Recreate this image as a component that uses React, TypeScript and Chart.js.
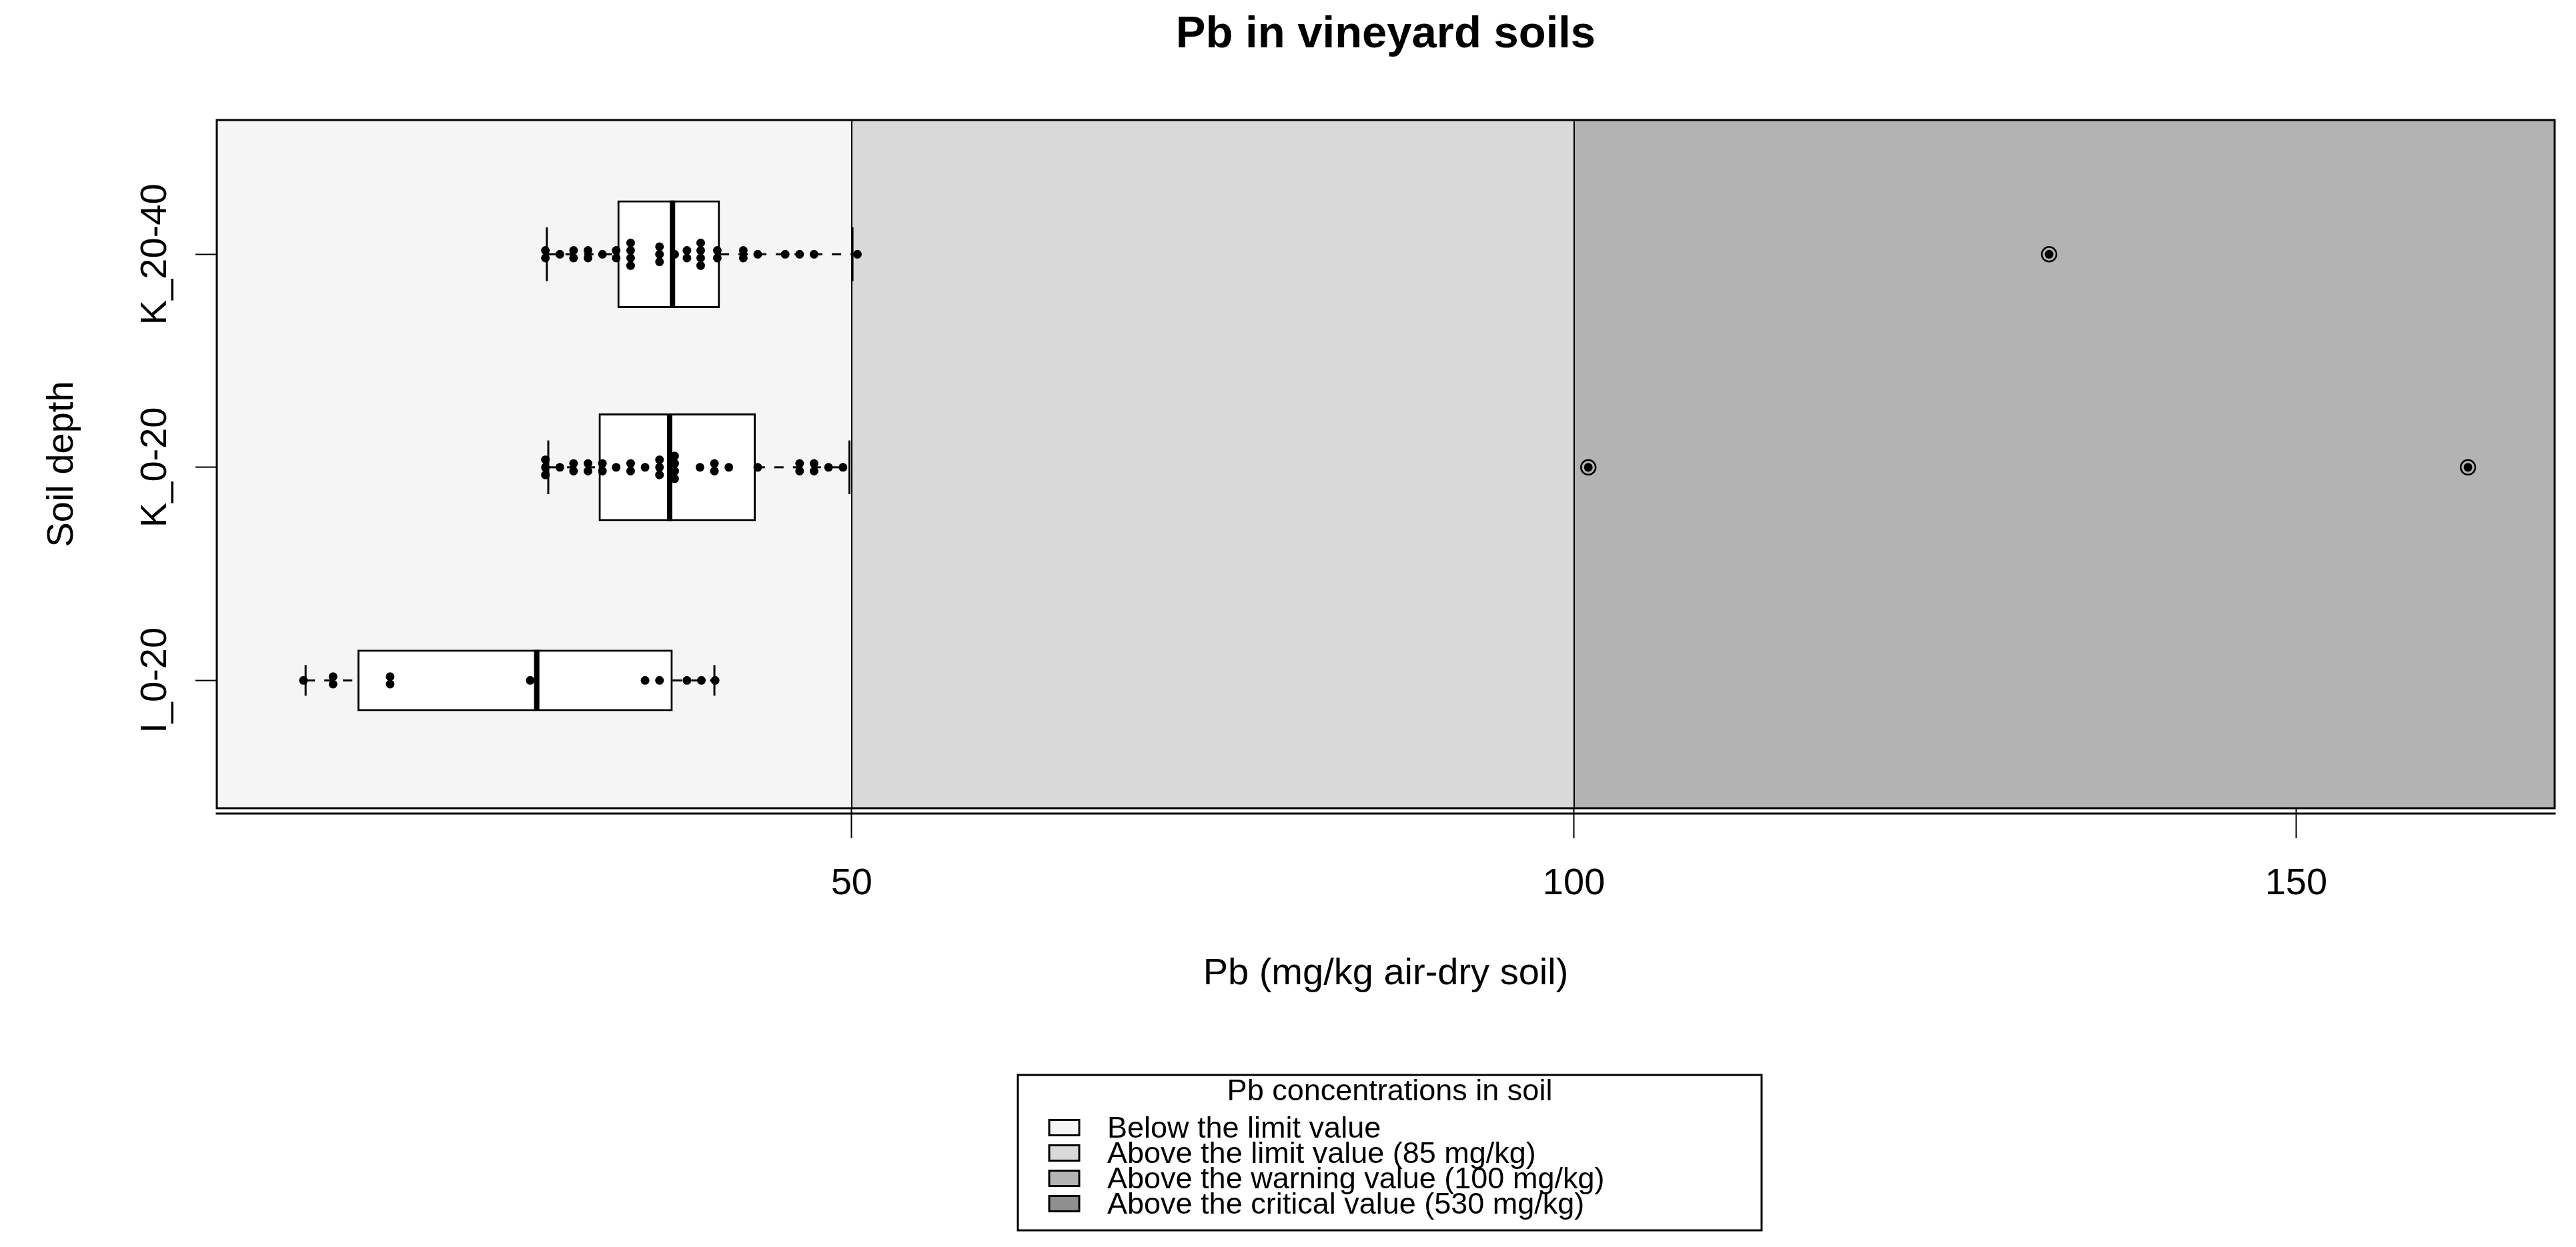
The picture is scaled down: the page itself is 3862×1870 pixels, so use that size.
import React, { useEffect, useRef } from 'react';
import { Chart, registerables } from 'chart.js';

Chart.register(...registerables);

const FONT = '"Liberation Sans", Arial, Helvetica, sans-serif';

// ---------- data ----------
// categories from bottom to top
const categories = ['I_0-20', 'K_0-20', 'K_20-40'];
const categoryPositions = [1, 2, 3];

// box-plot statistics (mg/kg)
const whiskerLow = [12.2, 29.0, 28.9];
const lowerHinge = [15.8, 32.5, 33.8];
const medians = [28.2, 37.4, 37.6];
const upperHinge = [37.6, 43.35, 40.87];
const whiskerHigh = [40.5, 49.85, 50.06];
const outliersI020: number[] = [];
const outliersK020 = [101.0, 161.9];
const outliersK2040 = [132.9];

// individual samples (binned positions as drawn)
const pointsI020 = [12.05, 14.1, 14.1, 18.05, 18.05, 27.75, 35.7, 36.7, 38.6, 39.6, 40.55];
const pointsK020 = [
  28.8, 28.8, 28.8, 29.8, 30.75, 30.75, 31.75, 31.75, 32.75, 32.75, 33.7, 34.7, 34.7,
  35.7, 36.7, 36.7, 36.7, 37.75, 37.75, 37.75, 37.75, 39.5, 40.5, 40.5, 41.5, 43.5,
  46.4, 46.4, 47.4, 47.4, 48.4, 49.4, 101.0, 161.9,
];
const pointsK2040 = [
  28.8, 28.8, 29.8, 30.75, 30.75, 31.75, 31.75, 32.75, 33.7, 33.7, 34.7, 34.7, 34.7, 34.7,
  36.7, 36.7, 36.7, 37.75, 38.6, 38.6, 39.55, 39.55, 39.55, 39.55, 40.7, 40.7, 42.5, 42.5,
  43.5, 45.4, 46.4, 47.4, 50.4, 132.9,
];

const xTickValues = [50, 100, 150];
const bandBreaks = [50, 100];
const bandColors = ['#F5F5F5', '#D9D9D9', '#B3B3B3'];

const legendTitle = 'Pb concentrations in soil';
const legendLabels = [
  'Below the limit value',
  'Above the limit value (85 mg/kg)',
  'Above the warning value (100 mg/kg)',
  'Above the critical value (530 mg/kg)',
];
const legendColors = ['#F5F5F5', '#D9D9D9', '#B3B3B3', '#8F8F8F'];

const titleText = 'Pb in vineyard soils';
const xTitle = 'Pb (mg/kg air-dry soil)';
const yTitle = 'Soil depth';

// ---------- layout / style constants ----------
const W = 3862;
const H = 1870;
const X_MIN = 6.05;
const X_MAX = 167.9;
const Y_MIN = 0.4;
const Y_MAX = 3.63;
const BOX_PX = 161; // box height for the largest group (varwidth)
const STACK_STEP = 0.0355; // vertical spacing of stacked points (y units)

const groupOutliers = [outliersI020, outliersK020, outliersK2040];
const groupPoints = [pointsI020, pointsK020, pointsK2040];

function stackOffsets(values: number[]) {
  const counts = new Map<number, number>();
  values.forEach((v) => counts.set(v, (counts.get(v) || 0) + 1));
  const seen = new Map<number, number>();
  return values.map((v) => {
    const c = counts.get(v) || 1;
    const k = seen.get(v) || 0;
    seen.set(v, k + 1);
    return (k - (c - 1) / 2) * STACK_STEP;
  });
}

function buildDatasets() {
  const nMax = Math.max(...groupPoints.map((p) => p.length));
  const datasets: any[] = [];
  const dots: { x: number; y: number }[] = [];
  const outs: { x: number; y: number }[] = [];

  categories.forEach((_, g) => {
    const pos = categoryPositions[g];
    const boxPx = BOX_PX * Math.sqrt(groupPoints[g].length / nMax);

    datasets.push({
      type: 'bar',
      indexAxis: 'y',
      data: [{ x: [lowerHinge[g], upperHinge[g]], y: pos }],
      backgroundColor: '#FFFFFF',
      borderColor: '#000000',
      borderWidth: 3,
      borderSkipped: false,
      grouped: false,
      barPercentage: 1,
      categoryPercentage: 1,
      maxBarThickness: boxPx,
      order: 4,
    });

    datasets.push({
      type: 'scatter',
      data: [{ x: medians[g], y: pos }],
      pointStyle: 'line',
      pointRotation: 90,
      pointRadius: boxPx / 2,
      pointBorderWidth: 8,
      pointBorderColor: '#000000',
      pointBackgroundColor: '#000000',
      order: 2,
    });

    datasets.push({
      type: 'scatter',
      data: [
        { x: whiskerLow[g], y: pos },
        { x: whiskerHigh[g], y: pos },
      ],
      pointStyle: 'line',
      pointRotation: 90,
      pointRadius: boxPx / 4,
      pointBorderWidth: 3,
      pointBorderColor: '#000000',
      order: 3,
    });

    const whiskerStyle = {
      type: 'line',
      borderColor: '#000000',
      borderWidth: 3,
      borderDash: [14, 14],
      pointRadius: 0,
      fill: false,
      order: 5,
    };
    datasets.push({
      ...whiskerStyle,
      data: [
        { x: whiskerLow[g], y: pos },
        { x: lowerHinge[g], y: pos },
      ],
    });
    datasets.push({
      ...whiskerStyle,
      data: [
        { x: upperHinge[g], y: pos },
        { x: whiskerHigh[g], y: pos },
      ],
    });

    const offs = stackOffsets(groupPoints[g]);
    groupPoints[g].forEach((v, i) => dots.push({ x: v, y: pos + offs[i] }));
    groupOutliers[g].forEach((v) => outs.push({ x: v, y: pos }));
  });

  datasets.push({
    type: 'scatter',
    data: outs,
    pointStyle: 'circle',
    pointRadius: 11,
    pointBorderWidth: 2.5,
    pointBorderColor: '#000000',
    pointBackgroundColor: 'rgba(0,0,0,0)',
    order: 1,
  });

  datasets.push({
    type: 'scatter',
    data: dots,
    pointStyle: 'circle',
    pointRadius: 6.5,
    pointBorderWidth: 0,
    pointBackgroundColor: '#000000',
    pointBorderColor: '#000000',
    order: 0,
  });

  return datasets;
}

const bandsPlugin = {
  id: 'bands',
  beforeDatasetsDraw(chart: any) {
    const { ctx, chartArea: a, scales } = chart;
    const x = scales.x;
    const edges = [x.min, ...bandBreaks, x.max];
    ctx.save();
    for (let i = 0; i < bandColors.length; i++) {
      const x0 = x.getPixelForValue(edges[i]);
      const x1 = x.getPixelForValue(edges[i + 1]);
      ctx.fillStyle = bandColors[i];
      ctx.fillRect(x0, a.top, x1 - x0, a.bottom - a.top);
    }
    ctx.strokeStyle = '#000000';
    ctx.lineWidth = 2;
    bandBreaks.forEach((b) => {
      const px = Math.round(x.getPixelForValue(b));
      ctx.beginPath();
      ctx.moveTo(px, a.top);
      ctx.lineTo(px, a.bottom);
      ctx.stroke();
    });
    ctx.restore();
  },
};

const framePlugin = {
  id: 'frame',
  afterDatasetsDraw(chart: any) {
    const { ctx, chartArea: a } = chart;
    ctx.save();
    ctx.strokeStyle = '#000000';
    ctx.lineWidth = 3;
    ctx.strokeRect(a.left, a.top, a.right - a.left, a.bottom - a.top);
    ctx.beginPath();
    ctx.moveTo(a.left - 1.5, a.bottom + 8);
    ctx.lineTo(a.right + 1.5, a.bottom + 8);
    ctx.stroke();
    ctx.restore();
  },
};

const legendPlugin = {
  id: 'rlegend',
  afterDraw(chart: any) {
    const { ctx, chartArea: a } = chart;
    const cx = (a.left + a.right) / 2 + 6;
    const boxW = 1115;
    const left = cx - boxW / 2;
    const top = 1612;
    const bottom = 1845;
    ctx.save();
    ctx.fillStyle = '#FFFFFF';
    ctx.fillRect(left, top, boxW, bottom - top);
    ctx.strokeStyle = '#000000';
    ctx.lineWidth = 3;
    ctx.strokeRect(left, top, boxW, bottom - top);

    ctx.fillStyle = '#000000';
    ctx.font = `45px ${FONT}`;
    ctx.textAlign = 'center';
    ctx.textBaseline = 'middle';
    ctx.fillText(legendTitle, cx, 1638);

    ctx.textAlign = 'left';
    legendLabels.forEach((lab, i) => {
      const yc = 1691 + i * 38;
      ctx.fillStyle = legendColors[i];
      ctx.fillRect(left + 47, yc - 11.5, 45, 23);
      ctx.strokeStyle = '#000000';
      ctx.lineWidth = 3;
      ctx.strokeRect(left + 47, yc - 11.5, 45, 23);
      ctx.fillStyle = '#000000';
      ctx.fillText(lab, left + 134, yc + 3);
    });
    ctx.restore();
  },
};

export default function App() {
  const canvasRef = useRef<HTMLCanvasElement | null>(null);

  useEffect(() => {
    const canvas = canvasRef.current;
    if (!canvas) return;

    const chart = new Chart(canvas, {
      type: 'scatter',
      data: { datasets: buildDatasets() as any },
      options: {
        animation: false,
        responsive: false,
        devicePixelRatio: 1,
        events: [],
        layout: {
          autoPadding: false,
          padding: { left: 0, right: 32, top: 0, bottom: 376 },
        },
        plugins: {
          legend: { display: false },
          tooltip: { enabled: false },
          title: {
            display: true,
            text: titleText,
            fullSize: false,
            color: '#000000',
            font: { family: FONT, size: 67, weight: 'bold' },
            padding: { top: 12, bottom: 87.6 },
          },
        },
        scales: {
          x: {
            type: 'linear',
            min: X_MIN,
            max: X_MAX,
            offset: false,
            afterBuildTicks: (s: any) => {
              s.ticks = xTickValues.map((v) => ({ value: v }));
            },
            afterFit: (s: any) => {
              s.height = 282;
            },
            ticks: {
              color: '#000000',
              font: { family: FONT, size: 56 },
              padding: 35,
              maxRotation: 0,
              minRotation: 0,
            },
            grid: {
              display: true,
              offset: false,
              drawOnChartArea: false,
              drawTicks: true,
              tickLength: 45,
              tickWidth: 2,
              tickColor: '#000000',
              color: '#000000',
            },
            border: { display: false },
            title: {
              display: true,
              text: xTitle,
              color: '#000000',
              font: { family: FONT, size: 56 },
              padding: { top: 0, bottom: 0 },
            },
          },
          y: {
            type: 'linear',
            min: Y_MIN,
            max: Y_MAX,
            offset: false,
            afterBuildTicks: (s: any) => {
              s.ticks = categoryPositions.map((v) => ({ value: v }));
            },
            afterFit: (s: any) => {
              s.width = 325;
            },
            ticks: {
              color: '#000000',
              font: { family: FONT, size: 56 },
              minRotation: 90,
              maxRotation: 90,
              crossAlign: 'center',
              padding: -46,
              callback: (v: any) => {
                const i = categoryPositions.indexOf(Number(v));
                return i >= 0 ? categories[i] : '';
              },
            },
            grid: {
              display: true,
              offset: false,
              drawOnChartArea: false,
              drawTicks: true,
              tickLength: 32,
              tickWidth: 2,
              tickColor: '#000000',
              color: '#000000',
            },
            border: { display: false },
            title: {
              display: true,
              text: yTitle,
              color: '#000000',
              font: { family: FONT, size: 56 },
              padding: { top: 60, bottom: 0 },
            },
          },
        },
      } as any,
      plugins: [bandsPlugin, framePlugin, legendPlugin],
    });

    return () => {
      chart.destroy();
    };
  }, []);

  return (
    <canvas
      ref={canvasRef}
      width={W}
      height={H}
      style={{ position: 'absolute', left: 0, top: 0, width: `${W}px`, height: `${H}px`, display: 'block', background: '#FFFFFF' }}
    />
  );
}
